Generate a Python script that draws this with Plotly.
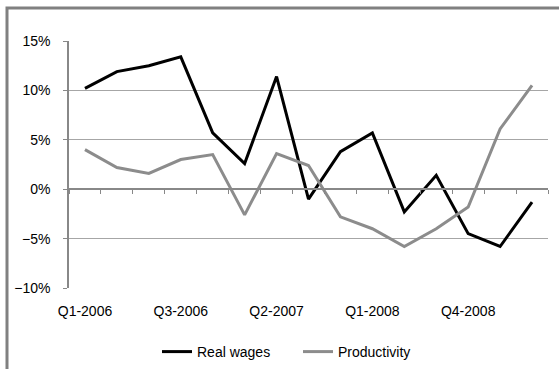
import plotly.graph_objects as go

quarter_index = list(range(15))
tick_positions = [0, 3, 6, 9, 12]
tick_labels = ["Q1-2006", "Q3-2006", "Q2-2007", "Q1-2008", "Q4-2008"]
real_wages = [10.2, 11.9, 12.5, 13.4, 5.7, 2.6, 11.4, -1.0, 3.8, 5.7, -2.3, 1.4, -4.5, -5.8, -1.3]
productivity = [4.0, 2.2, 1.6, 3.0, 3.5, -2.6, 3.6, 2.4, -2.8, -4.0, -5.8, -4.0, -1.8, 6.1, 10.5]
boundaries = [i - 0.5 for i in range(16)]

W, H = 559, 369
L, R, T, B = 69, 11, 41, 81
pw, ph = W - L - R, H - T - B

fig = go.Figure()
fig.add_trace(go.Scatter(x=quarter_index, y=real_wages, name="Real wages", mode="lines",
                         line=dict(color="#000000", width=3), xaxis="x", yaxis="y"))
fig.add_trace(go.Scatter(x=quarter_index, y=productivity, name="Productivity", mode="lines",
                         line=dict(color="#8c8c8c", width=3), xaxis="x2", yaxis="y"))

font = dict(family="Liberation Sans, Arial, sans-serif", size=14, color="#000000")
fig.update_layout(
    width=W, height=H,
    margin=dict(l=L, r=R, t=T, b=B, autoexpand=False),
    paper_bgcolor="white", plot_bgcolor="white",
    font=font,
    showlegend=True,
    legend=dict(orientation="h", x=(157 - L) / pw, xanchor="left", y=-(352 - (T + ph)) / ph,
                yanchor="middle", font=dict(family="Liberation Sans, Arial, sans-serif", size=14),
                itemwidth=30, entrywidth=96, bgcolor="rgba(0,0,0,0)"),
    xaxis=dict(range=[-0.5, 14.5], tickvals=tick_positions, ticktext=tick_labels,
               showgrid=False, showline=False, zeroline=False, ticks="",
               ticklabelstandoff=13, tickfont=font),
    xaxis2=dict(range=[-0.5, 14.5], overlaying="x", anchor="free", position=10 / 25,
                tickvals=boundaries, showticklabels=False, ticks="outside", ticklen=4,
                tickcolor="#888888", showline=True, linecolor="#888888", linewidth=1.5,
                showgrid=False, zeroline=False),
    yaxis=dict(range=[-10, 15], dtick=5, ticksuffix="%", showgrid=True, gridcolor="#a6a6a6",
               gridwidth=1, zeroline=False, showline=True, linecolor="#888888", linewidth=1.5,
               ticks="outside", ticklen=4, tickcolor="#888888", ticklabelstandoff=10,
               tickfont=font),
    shapes=[dict(type="rect", xref="paper", yref="paper",
                 x0=(7 - L) / pw, x1=(W + 20 - L) / pw,
                 y0=-(H + 20 - T - ph) / ph, y1=1 + (T - 8) / ph,
                 line=dict(color="#808080", width=3), fillcolor="rgba(0,0,0,0)", layer="below")],
)

fig.write_html("out.html", config={"displayModeBar": False},
               post_script="document.body.style.margin='0';document.body.style.overflow='hidden';")
